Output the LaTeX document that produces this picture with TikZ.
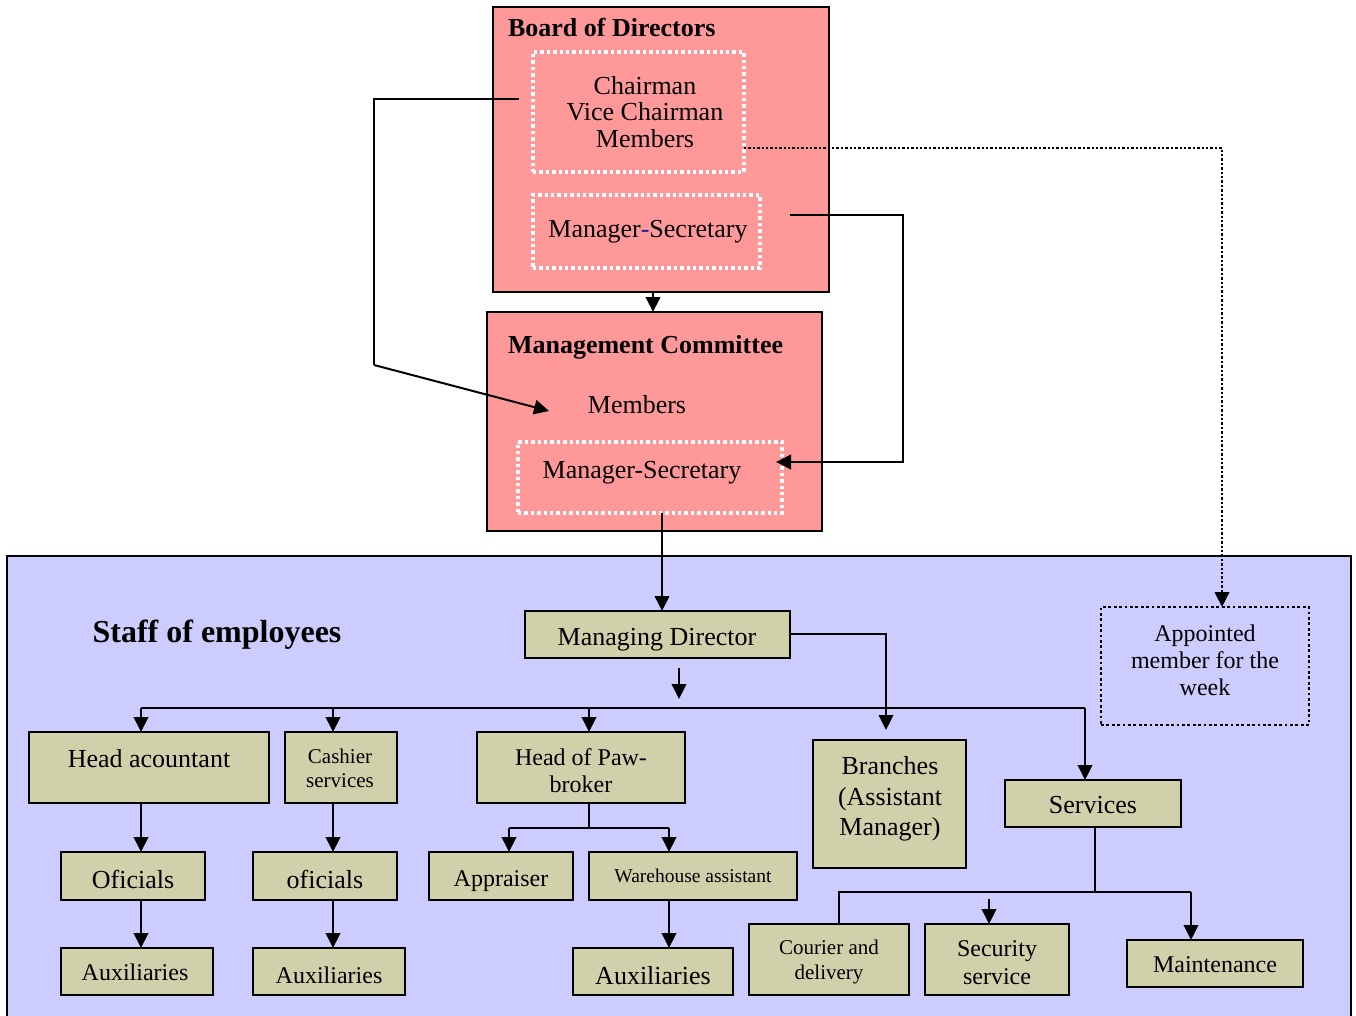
\documentclass[tikz,border=0pt]{standalone}
\usepackage{fontspec}
\setmainfont{Liberation Serif}
\usetikzlibrary{arrows.meta,fit}
\definecolor{boardpink}{RGB}{255,153,153}
\definecolor{stafflilac}{RGB}{204,204,255}
\definecolor{unittan}{RGB}{208,208,170}
\definecolor{hyphenblue}{RGB}{30,30,170}
\begin{document}
\begin{tikzpicture}[x=1pt,y=-1pt,
  every node/.style={inner sep=0pt,outer sep=0pt},
  frame/.style={draw=black,line width=1.8pt},
  unitbox/.style={draw=black,fill=unittan,line width=1.8pt},
  whitedots/.style={draw=white,line width=3.4pt,dash pattern=on 3.4pt off 3pt},
  blackdots/.style={draw=black,line width=2.8pt,dash pattern=on 2.8pt off 2.6pt},
  txt/.style n args={2}{align=center,font=\fontsize{#1}{#2}\selectfont},
  title/.style={font=\fontsize{#1}{#1}\selectfont\bfseries},
  link/.style={line width=2pt},
  arr/.style={link,-{Triangle[length=15pt,width=14.5pt]}},
  dotlink/.style={line width=2.4pt,dash pattern=on 2.4pt off 2pt,-{Triangle[length=15pt,width=14.5pt]}}
]
\path[use as bounding box] (0,0) rectangle (1356,1016);

% ---------- staff panel ----------
\node[frame,fill=stafflilac,fit={(7,556) (1351,1040)}] (staff) {};
\node[title=32,anchor=base] (stafft) at (217,642) {Staff of employees};

% ---------- board of directors ----------
\node[frame,fill=boardpink,fit={(493,7) (829,292)}] (bod) {};
\node[title=26,anchor=base west] (bodt) at (508,37) {Board of Directors};
\node[whitedots,fit={(533,52) (744,172)}] (bodmem) {};
\node[txt={26}{26.5}] (bodmemt) at (645,112) {Chairman\\Vice Chairman\\Members};
\node[whitedots,fit={(533,195) (760,268)}] (bodms) {};
\node[txt={26}{26},anchor=base] (bodmst) at (648,238) {Manager\textcolor{hyphenblue}{-}Secretary};

% ---------- management committee ----------
\node[frame,fill=boardpink,fit={(487,312) (822,531)}] (mc) {};
\node[title=26,anchor=base west] (mct) at (508,353) {Management Committee};
\node[txt={26}{26},anchor=base] (mcmem) at (637,413) {Members};
\node[whitedots,fit={(518,442) (782,513)}] (mcms) {};
\node[txt={26}{26},anchor=base] (mcmst) at (642,478) {Manager-Secretary};

% ---------- staff units ----------
\node[unitbox,fit={(525,611) (790,658)}] (md) {};
\node[txt={26}{26},anchor=base] (mdt) at (657,645) {Managing Director};

\node[blackdots,fit={(1101,607) (1309,725)}] (appt) {};
\node[txt={24}{27}] (apptt) at (1205,660) {Appointed\\member for the\\week};

\node[unitbox,fit={(29,732) (269,803)}] (head) {};
\node[txt={26}{26},anchor=base] (headt) at (149,767) {Head acountant};
\node[unitbox,fit={(285,732) (397,803)}] (cash) {};
\node[txt={21}{24}] (casht) at (340,768) {Cashier\\services};
\node[unitbox,fit={(477,732) (685,803)}] (paw) {};
\node[txt={24}{27}] (pawt) at (581,771) {Head of Paw-\\broker};
\node[unitbox,fit={(813,740) (966,868)}] (branch) {};
\node[txt={26}{30.5}] (brancht) at (890,799) {Branches\\(Assistant\\Manager)};
\node[unitbox,fit={(1005,780) (1181,827)}] (serv) {};
\node[txt={26}{26},anchor=base] (servt) at (1093,813) {Services};

\node[unitbox,fit={(61,852) (205,900)}] (ofa) {};
\node[txt={26}{26},anchor=base] (ofat) at (133,888) {Oficials};
\node[unitbox,fit={(253,852) (397,900)}] (ofb) {};
\node[txt={26}{26},anchor=base] (ofbt) at (325,888) {oficials};
\node[unitbox,fit={(429,852) (573,900)}] (appr) {};
\node[txt={24}{24},anchor=base] (apprt) at (501,886) {Appraiser};
\node[unitbox,fit={(589,852) (797,900)}] (ware) {};
\node[txt={19.5}{19.5},anchor=base] (waret) at (693,882) {Warehouse assistant};

\node[unitbox,fit={(61,948) (213,995)}] (auxa) {};
\node[txt={24}{24},anchor=base] (auxat) at (135,980) {Auxiliaries};
\node[unitbox,fit={(253,948) (405,995)}] (auxb) {};
\node[txt={24}{24},anchor=base] (auxbt) at (329,983) {Auxiliaries};
\node[unitbox,fit={(573,948) (733,995)}] (auxc) {};
\node[txt={26}{26},anchor=base] (auxct) at (653,984) {Auxiliaries};

\node[unitbox,fit={(749,924) (909,995)}] (cour) {};
\node[txt={21}{25}] (court) at (829,962) {Courier and\\delivery};
\node[unitbox,fit={(925,924) (1069,995)}] (sec) {};
\node[txt={24}{28}] (sect) at (997,963) {Security\\service};
\node[unitbox,fit={(1127,940) (1303,987)}] (maint) {};
\node[txt={24}{24},anchor=base] (maintt) at (1215,972) {Maintenance};

% ---------- free ends of connectors ----------
\coordinate (bodleft) at (519,99);
\coordinate (mcmemin) at (549,411);
\coordinate (bodright) at (790,215);
\coordinate (mcmsin) at (776,462);
\coordinate (mdbelow) at (679,668);
\coordinate (busgap) at (679,699);
\coordinate (secabove) at (989,899);

% ---------- board level connectors ----------
\draw[link] (bodleft) -- (374,99) -- (374,365);
\draw[arr] (374,365) -- (mcmemin);
\draw[arr] (bodright) -- (903,215) |- (mcmsin);
\draw[dotlink] (bodmem.east |- 0,148) -| (appt.north -| 1222,0);
\draw[arr] (653,0 |- bod.south) -- (653,0 |- mc.north);
\draw[arr] (662,0 |- mcms.south) -- (662,0 |- md.north);

% ---------- staff connectors ----------
\draw[arr] (md.east |- 0,634) -| (886,730);
\draw[arr] (mdbelow) -- (busgap);
\draw[link] (141,708) -- (1085,708);
\draw[arr] (141,708) -- (141,0 |- head.north);
\draw[arr] (333,708) -- (333,0 |- cash.north);
\draw[arr] (589,708) -- (589,0 |- paw.north);
\draw[arr] (1085,708) -- (1085,0 |- serv.north);

\draw[arr] (141,0 |- head.south) -- (141,0 |- ofa.north);
\draw[arr] (141,0 |- ofa.south) -- (141,0 |- auxa.north);
\draw[arr] (333,0 |- cash.south) -- (333,0 |- ofb.north);
\draw[arr] (333,0 |- ofb.south) -- (333,0 |- auxb.north);

\draw[link] (589,0 |- paw.south) -- (589,828);
\draw[link] (509,828) -- (669,828);
\draw[arr] (509,828) -- (509,0 |- appr.north);
\draw[arr] (669,828) -- (669,0 |- ware.north);
\draw[arr] (669,0 |- ware.south) -- (669,0 |- auxc.north);

\draw[link] (1095,0 |- serv.south) -- (1095,892);
\draw[link] (839,0 |- cour.north) -- (839,892) -- (1191,892);
\draw[arr] (1191,892) -- (1191,0 |- maint.north);
\draw[arr] (secabove) -- (989,0 |- sec.north);
\end{tikzpicture}
\end{document}
